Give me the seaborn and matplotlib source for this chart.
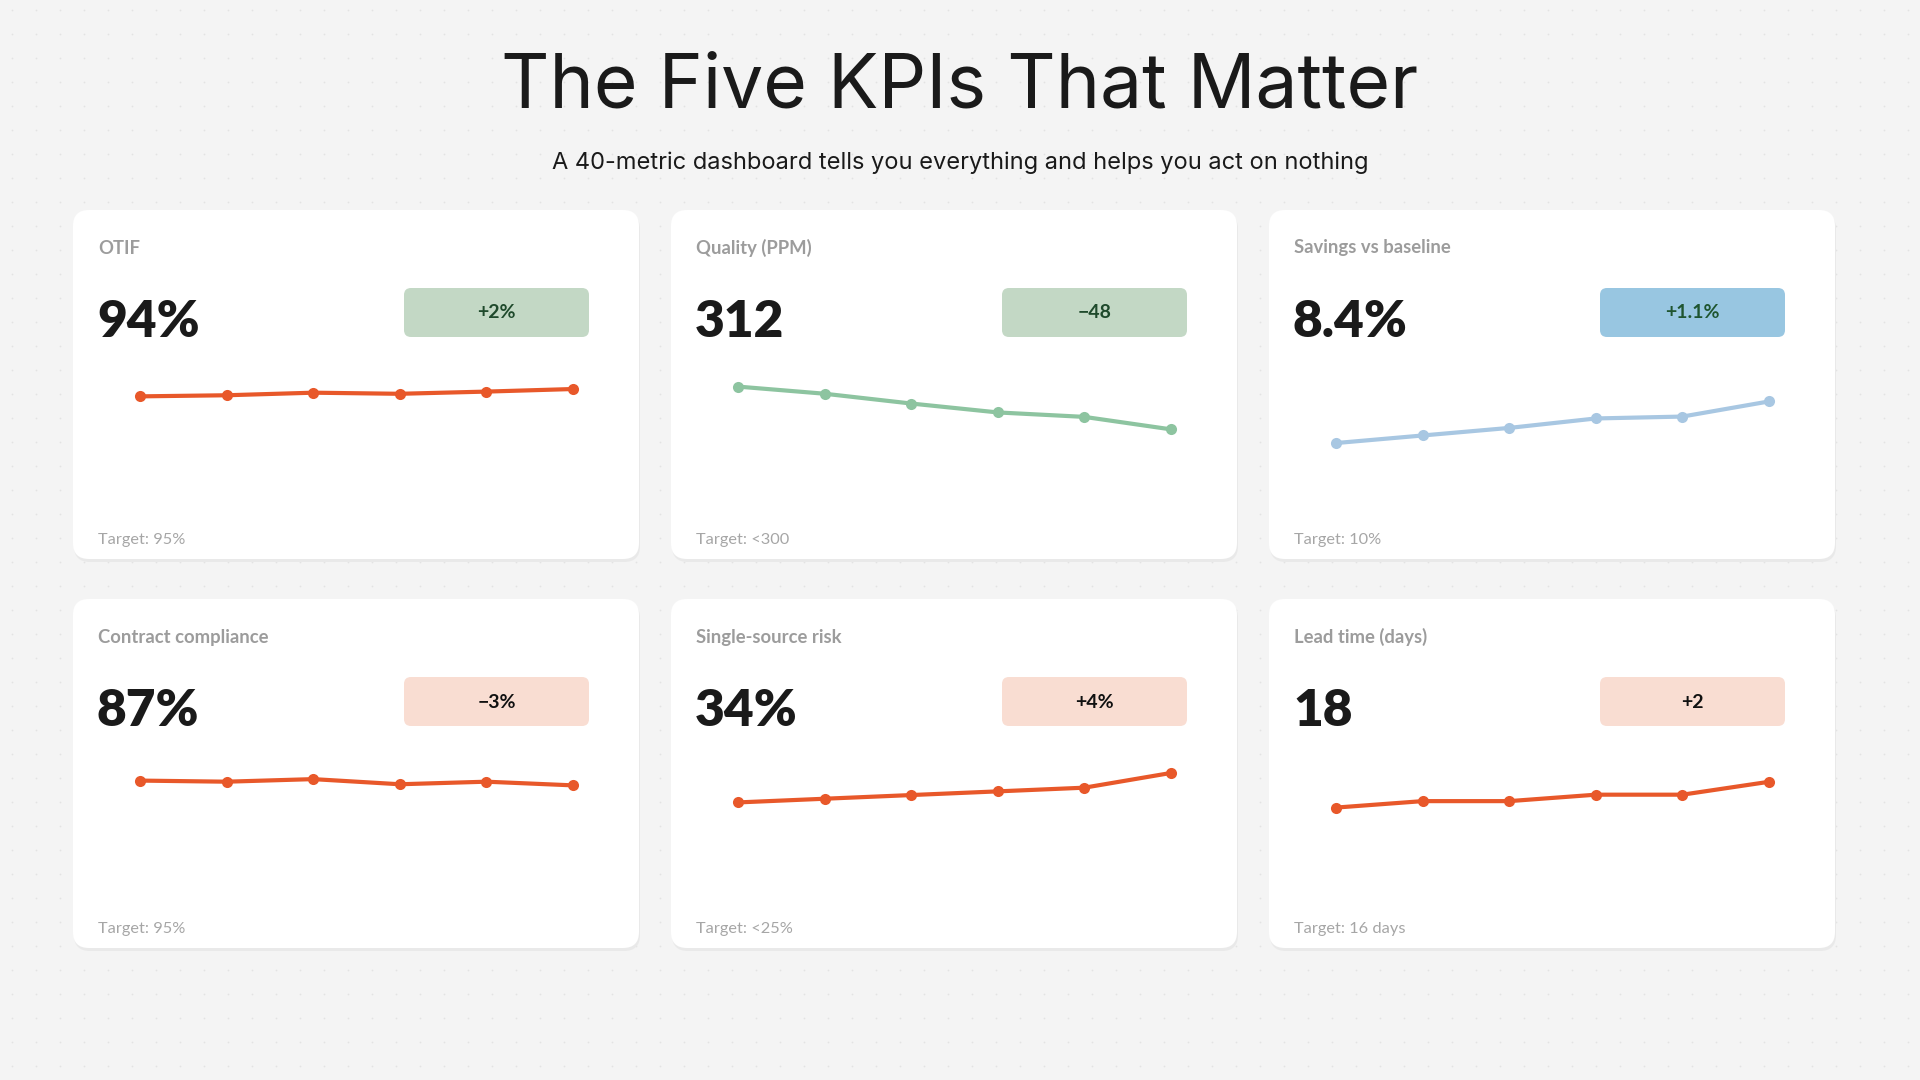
import numpy as np
import matplotlib
matplotlib.use("Agg")
import matplotlib.pyplot as plt
from matplotlib.patches import FancyBboxPatch
import seaborn as sns

# --------------------------------------------------
# Data
# --------------------------------------------------
kpi_names = ["OTIF", "Quality (PPM)", "Savings vs baseline",
             "Contract compliance", "Single-source risk", "Lead time (days)"]
kpi_values = ["94%", "312", "8.4%", "87%", "34%", "18"]
kpi_deltas = ["+2%", "\u221248", "+1.1%", "\u22123%", "+4%", "+2"]
kpi_targets = ["Target: 95%", "Target: <300", "Target: 10%",
               "Target: 95%", "Target: <25%", "Target: 16 days"]

periods = [1, 2, 3, 4, 5, 6]
otif_trend = [92.0, 92.3, 93.0, 92.7, 93.3, 94.0]
quality_trend = [360, 352, 341, 331, 326, 312]
savings_trend = [7.3, 7.5, 7.7, 7.95, 8.0, 8.4]
compliance_trend = [88.3, 88.0, 88.7, 87.3, 88.0, 87.0]
single_source_trend = [30.0, 30.5, 31.0, 31.5, 32.0, 34.0]
lead_time_trend = [16.0, 16.5, 16.5, 17.0, 17.0, 18.0]
trends = [otif_trend, quality_trend, savings_trend,
          compliance_trend, single_source_trend, lead_time_trend]

# sparkline value ranges (one per card)
spark_ylims = [(73.3, 100.0), (272, 382), (6.72, 9.31),
               (68.3, 95.0), (23.0, 36.3), (12.4, 20.0)]

# --------------------------------------------------
# Styles
# --------------------------------------------------
ORANGE = "#e8582a"
GREEN_LINE = "#8dc4a0"
BLUE_LINE = "#a8c7e2"
line_colors = [ORANGE, GREEN_LINE, BLUE_LINE, ORANGE, ORANGE, ORANGE]
badge_colors = ["#c3d8c5", "#c3d8c5", "#98c6e1", "#f9ddd2", "#f9ddd2", "#f9ddd2"]
badge_text_colors = ["#1f4a2c", "#1f4a2c", "#1f5530", "#111111", "#111111", "#111111"]

sns.set_theme(style="white")
plt.rcParams["font.family"] = ["Lato", "DejaVu Sans"]

W, H = 1920, 1080
BG = "#f4f4f4"
fig = plt.figure(figsize=(W / 100, H / 100), dpi=100, facecolor=BG)


def fig_rect(x, y, w, h):
    return [x / W, 1 - (y + h) / H, w / W, h / H]


# background dot texture
bg = fig.add_axes([0, 0, 1, 1], zorder=0)
bg.set_xlim(0, W)
bg.set_ylim(H, 0)
bg.axis("off")
gx, gy = np.meshgrid(np.arange(12, W, 24), np.arange(10, H, 24))
bg.scatter(gx.ravel(), gy.ravel(), s=1.6, color="#e3e3e3", linewidths=0)

# title
fig.text(0.5, 1 - 88 / H, "The Five KPIs That Matter", ha="center", va="center",
         fontsize=54, color="#1a1a1a", family=["Inter", "DejaVu Sans"])
fig.text(0.5, 1 - 163 / H,
         "A 40-metric dashboard tells you everything and helps you act on nothing",
         ha="center", va="center", fontsize=17, color="#1a1a1a",
         family=["Inter", "DejaVu Sans"])

# --------------------------------------------------
# Cards
# --------------------------------------------------
CW, CH = 566, 349
col_x = [73, 671, 1269]
row_y = [210, 599]

for i in range(6):
    cx = col_x[i % 3]
    cy = row_y[i // 3]

    card = fig.add_axes(fig_rect(cx, cy, CW, CH), zorder=1)
    card.set_xlim(0, CW)
    card.set_ylim(CH, 0)
    card.axis("off")
    card.add_patch(FancyBboxPatch((1, 3), CW, CH, boxstyle="round,pad=0,rounding_size=16",
                                  facecolor="#e9e9e9", edgecolor="none", clip_on=False))
    card.add_patch(FancyBboxPatch((0, 0), CW, CH, boxstyle="round,pad=0,rounding_size=16",
                                  facecolor="white", edgecolor="none", clip_on=False))

    card.text(25, 38, kpi_names[i], ha="left", va="center", fontsize=13.3,
              fontweight="bold", color="#9c9c9c")
    card.text(24, 112, kpi_values[i], ha="left", va="center", fontsize=37,
              fontweight="heavy", color="#1a1a1a")
    card.add_patch(FancyBboxPatch((331, 78), 185, 49, boxstyle="round,pad=0,rounding_size=7",
                                  facecolor=badge_colors[i], edgecolor="none"))
    card.text(423.5, 103, kpi_deltas[i], ha="center", va="center", fontsize=14,
              fontweight="bold", color=badge_text_colors[i])
    card.text(25, 330, kpi_targets[i], ha="left", va="center", fontsize=11.8,
              color="#a6a6a6")

    spark = fig.add_axes(fig_rect(cx + 67, cy + 157, 433, 98), zorder=2)
    spark.patch.set_alpha(0)
    sns.lineplot(x=periods, y=trends[i], ax=spark, color=line_colors[i],
                 linewidth=3.0, marker="o", markersize=8, markeredgewidth=0,
                 clip_on=False)
    spark.set_xlim(periods[0], periods[-1])
    spark.set_ylim(*spark_ylims[i])
    spark.axis("off")

fig.savefig("out.png", dpi=100, facecolor=BG)
